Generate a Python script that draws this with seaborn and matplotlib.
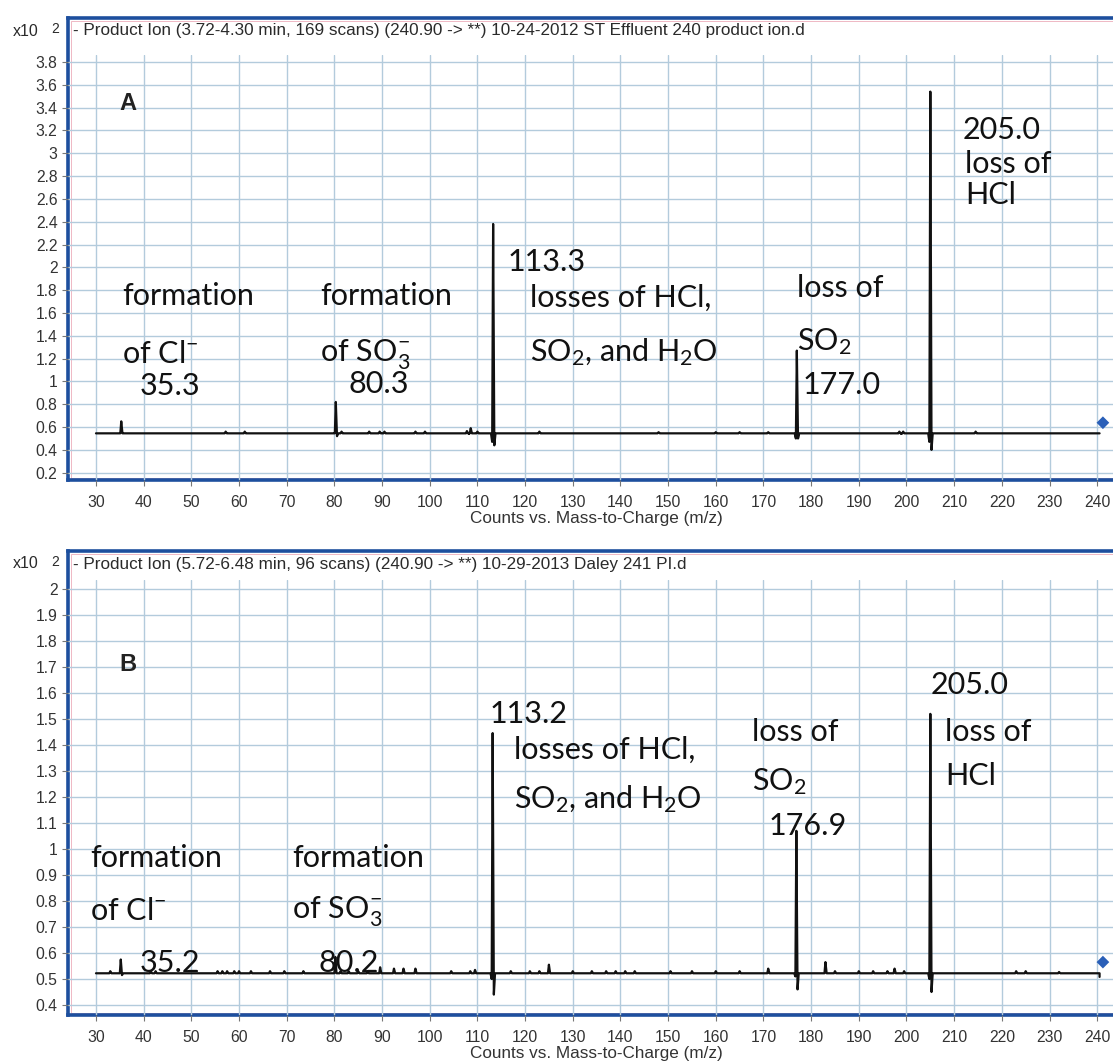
import numpy as np
import pandas as pd
import matplotlib
matplotlib.use("Agg")
import matplotlib.pyplot as plt
from matplotlib.patches import Rectangle
from matplotlib.ticker import FuncFormatter
import seaborn as sns

# ---- spectrum A: 10-24-2012 ST Effluent, product ions of m/z 240.90 ----
base_a = 0.545
peak_mz_a = [35.3, 57.2, 61.2, 80.3, 81.5, 87.3, 89.5, 90.5, 97.0, 99.0,
             107.8, 108.6, 110.0, 113.3, 123.0, 148.0, 160.0, 165.0, 171.0,
             177.0, 198.5, 199.3, 205.0, 214.5]
peak_top_a = [0.65, 0.56, 0.56, 0.82, 0.56, 0.56, 0.56, 0.56, 0.56, 0.56,
              0.565, 0.59, 0.56, 2.38, 0.56, 0.555, 0.555, 0.555, 0.555,
              1.27, 0.56, 0.56, 3.54, 0.56]
peak_pre_a = [0.545, 0.545, 0.545, 0.545, 0.545, 0.545, 0.545, 0.545, 0.545, 0.545,
              0.545, 0.545, 0.545, 0.47, 0.545, 0.545, 0.545, 0.545, 0.545,
              0.50, 0.545, 0.545, 0.47, 0.545]
peak_dip_a = [0.545, 0.545, 0.545, 0.52, 0.545, 0.545, 0.545, 0.545, 0.545, 0.545,
              0.545, 0.545, 0.545, 0.44, 0.545, 0.545, 0.545, 0.545, 0.545,
              0.50, 0.545, 0.545, 0.40, 0.545]
end_a = 0.545

# ---- spectrum B: 10-29-2013 Daley 241 ----
base_b = 0.522
peak_mz_b = [33.0, 35.2, 41.5, 42.5, 55.5, 56.5, 57.5, 59.0, 60.0, 62.5, 66.5,
             69.5, 73.5, 80.2, 81.3, 83.0, 85.0, 87.0, 89.6, 92.5, 94.5, 97.0,
             104.5, 108.5, 109.5, 113.2, 117.0, 121.0, 123.0, 125.0, 130.0,
             134.0, 137.0, 139.0, 141.0, 143.0, 150.5, 155.0, 160.0, 165.0,
             171.0, 176.9, 183.0, 185.0, 190.0, 193.0, 196.0, 197.5, 199.5,
             205.0, 223.0, 225.0, 232.0]
peak_top_b = [0.53, 0.575, 0.53, 0.53, 0.53, 0.53, 0.53, 0.53, 0.53, 0.53, 0.53,
              0.53, 0.53, 0.585, 0.53, 0.53, 0.53, 0.53, 0.545, 0.54, 0.54, 0.54,
              0.53, 0.53, 0.535, 1.446, 0.53, 0.53, 0.53, 0.555, 0.53,
              0.53, 0.53, 0.53, 0.53, 0.53, 0.53, 0.53, 0.53, 0.53,
              0.54, 1.07, 0.565, 0.53, 0.53, 0.53, 0.53, 0.54, 0.53,
              1.52, 0.53, 0.53, 0.527]
peak_pre_b = [0.522] * 25 + [0.50] + [0.522] * 15 + [0.51] + [0.522] * 7 + [0.50] + [0.522] * 3
peak_dip_b = [0.522, 0.515] + [0.522] * 23 + [0.44] + [0.522] * 15 + [0.46] + [0.522] * 7 + [0.45] + [0.522] * 3
end_b = 0.508

mz_start, mz_end = 30.0, 240.5
ref_mz = 241.2
ref_a, ref_b = 0.638, 0.565

header_a = "- Product Ion (3.72-4.30 min, 169 scans) (240.90 -> **) 10-24-2012 ST Effluent 240 product ion.d"
header_b = "- Product Ion (5.72-6.48 min, 96 scans) (240.90 -> **) 10-29-2013 Daley 241 PI.d"
x_label = "Counts vs. Mass-to-Charge (m/z)"
x_ticks = list(range(30, 250, 10))
y_ticks_a = [round(0.2 * i, 1) for i in range(1, 20)]
y_ticks_b = [round(0.1 * i, 1) for i in range(4, 21)]


def build_trace(base, mz, top, pre, dip, end):
    """Profile trace: flat baseline with a narrow triangle per centroid."""
    xs, ys = [mz_start], [base]
    for m, t, p, d in zip(mz, top, pre, dip):
        xs += [m - 0.45, m - 0.2, m, m + 0.25, m + 0.5]
        ys += [base, p, t, d, base]
    xs += [mz_end, mz_end]
    ys += [base, end]
    return pd.DataFrame({"mz": xs, "counts": ys})


trace_a = build_trace(base_a, peak_mz_a, peak_top_a, peak_pre_a, peak_dip_a, end_a)
trace_b = build_trace(base_b, peak_mz_b, peak_top_b, peak_pre_b, peak_dip_b, end_b)

sns.set_style("white")
plt.rcParams["font.family"] = ["Liberation Sans", "DejaVu Sans"]
plt.rcParams["mathtext.fontset"] = "custom"
plt.rcParams["mathtext.rm"] = "Lato"
plt.rcParams["mathtext.it"] = "Lato"
plt.rcParams["mathtext.default"] = "regular"

W, H = 1113, 1063
fig = plt.figure(figsize=(W / 100, H / 100), dpi=100)
fig.patch.set_facecolor("white")

FRAME_BLUE = "#1d4f9e"
GRID = "#b3cbdc"
ANN = dict(family="Lato", fontsize=22, color="#111111")
TXT = "#2a2a2a"


def fx(px):
    return px / W


def fy(py):
    return 1 - py / H


def make_panel(top_px, grid_top_px, bottom_px, ylim, yticks, trace, ref_y,
               header, letter, letter_xy, notes):
    left = fx(68)
    right = 1.01
    w_px = W * (right - left)
    h_px = bottom_px - top_px
    # outer frame with the header strip
    frame = fig.add_axes([left, fy(bottom_px), right - left, fy(top_px) - fy(bottom_px)])
    frame.set_xticks([])
    frame.set_yticks([])
    for s in frame.spines.values():
        s.set_color(FRAME_BLUE)
        s.set_linewidth(2.6)
    frame.add_patch(Rectangle((2.5 / w_px, 2.5 / h_px), 1 - 5 / w_px, 1 - 5 / h_px,
                              transform=frame.transAxes, fill=False,
                              ec="#efb8c4", lw=0.7))
    frame.text(5 / w_px, 1 - 13 / h_px, header,
               transform=frame.transAxes, fontsize=12.3, color=TXT,
               va="center", ha="left")
    fig.text(fx(13), fy(top_px + 13), "x10", fontsize=11.5, color=TXT,
             va="center", ha="left")
    fig.text(fx(51), fy(top_px + 11), "2", fontsize=10, color=TXT,
             va="center", ha="left")

    # data area
    ax = fig.add_axes([left, fy(bottom_px), right - left, fy(grid_top_px) - fy(bottom_px)])
    ax.set_facecolor("none")
    for s in ax.spines.values():
        s.set_visible(False)
    ax.set_xlim(24.13, 245.65)
    ax.set_ylim(*ylim)
    ax.set_xticks(x_ticks)
    ax.set_yticks(yticks)
    ax.yaxis.set_major_formatter(FuncFormatter(lambda v, p: f"{v:g}"))
    ax.grid(True, color=GRID, lw=1.0)
    ax.set_axisbelow(True)
    ax.tick_params(axis="both", which="major", direction="out", length=4.5,
                   width=0.8, color="#777777", labelsize=11.3, labelcolor="#333333",
                   left=True, bottom=True, pad=3)
    ax.tick_params(axis="x", pad=6)

    sns.lineplot(data=trace, x="mz", y="counts", ax=ax, sort=False,
                 estimator=None, color="#111111", lw=1.6)
    sns.scatterplot(x=[ref_mz], y=[ref_y], ax=ax, marker="D", s=42,
                    color="#2a5fb8", edgecolor="none", zorder=5)
    ax.set_xlabel(x_label, fontsize=12.3, color="#333333", labelpad=1)
    ax.set_ylabel("")

    ax.text(letter_xy[0], letter_xy[1], letter, fontsize=17, fontweight="bold",
            color="#222222", ha="left", va="center")
    for x, y, s in notes:
        ax.text(x, y, s, ha="left", va="center", **ANN)
    return ax


notes_a = [
    (35.45, 1.75, "formation"),
    (35.45, 1.24, "of Cl$^{-}$"),
    (39.2, 0.96, "35.3"),
    (77.0, 1.75, "formation"),
    (77.0, 1.24, "of SO$_{3}^{-}$"),
    (82.9, 0.98, "80.3"),
    (116.4, 2.05, "113.3"),
    (121.0, 1.73, "losses of HCl,"),
    (121.0, 1.26, "SO$_{2}$, and H$_{2}$O"),
    (177.05, 1.82, "loss of"),
    (177.05, 1.35, "SO$_{2}$"),
    (178.1, 0.97, "177.0"),
    (211.7, 3.20, "205.0"),
    (212.3, 2.91, "loss of"),
    (212.3, 2.63, "HCl"),
]

notes_b = [
    (28.7, 0.965, "formation"),
    (28.7, 0.76, "of Cl$^{-}$"),
    (39.2, 0.56, "35.2"),
    (71.1, 0.965, "formation"),
    (71.1, 0.76, "of SO$_{3}^{-}$"),
    (76.6, 0.56, "80.2"),
    (112.65, 1.52, "113.2"),
    (117.7, 1.38, "losses of HCl,"),
    (117.7, 1.19, "SO$_{2}$, and H$_{2}$O"),
    (167.6, 1.45, "loss of"),
    (167.6, 1.26, "SO$_{2}$"),
    (171.0, 1.09, "176.9"),
    (205.0, 1.63, "205.0"),
    (208.1, 1.45, "loss of"),
    (208.1, 1.28, "HCl"),
]

make_panel(18, 55, 480, (0.136, 3.861), y_ticks_a, trace_a, ref_a,
           header_a, "A", (35.0, 3.44), notes_a)
make_panel(551, 580, 1015, (0.3615, 2.035), y_ticks_b, trace_b, ref_b,
           header_b, "B", (35.0, 1.71), notes_b)

fig.savefig("out.png", dpi=100, facecolor="white")
